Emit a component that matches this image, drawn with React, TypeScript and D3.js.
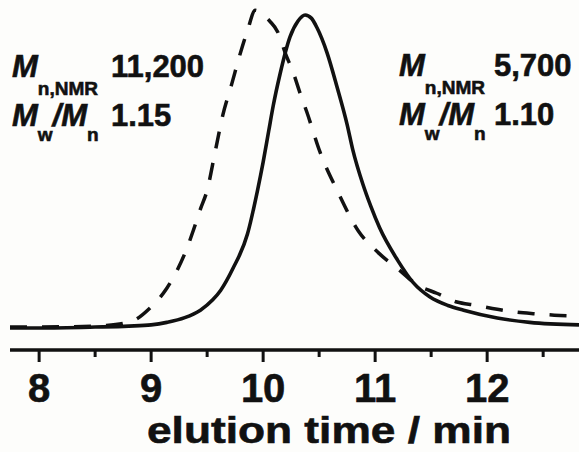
import * as d3 from "d3";

const W = 579;
const H = 452;

// elution time (min) and normalised RI signal
const solidTime = [7.74, 8.0, 8.5, 8.8, 9.0, 9.14, 9.3, 9.44, 9.55, 9.62, 9.73, 9.86, 9.95, 10.0, 10.05, 10.09, 10.15, 10.24, 10.31, 10.375, 10.43, 10.48, 10.57, 10.66, 10.75, 10.8, 10.89, 10.96, 11.04, 11.2, 11.34, 11.49, 11.65, 11.79, 12.09, 12.38, 12.82];
const solidSignal = [0.0, 0.0, 0.003, 0.006, 0.01, 0.018, 0.033, 0.057, 0.09, 0.12, 0.19, 0.3, 0.44, 0.53, 0.63, 0.71, 0.81, 0.93, 0.98, 1.0, 0.99, 0.96, 0.88, 0.77, 0.65, 0.57, 0.46, 0.39, 0.32, 0.217, 0.145, 0.099, 0.072, 0.057, 0.032, 0.018, 0.01];

const dashedTime = [7.74, 8.3, 8.6, 8.83, 8.99, 9.14, 9.24, 9.32, 9.375, 9.44, 9.5, 9.57, 9.64, 9.72, 9.79, 9.86, 9.93, 10.0, 10.06, 10.13, 10.2, 10.27, 10.33, 10.39, 10.51, 10.66, 10.85, 11.03, 11.2, 11.38, 11.55, 11.73, 11.89, 12.09, 12.25, 12.45, 12.6, 12.82];
const dashedSignal = [0.003, 0.004, 0.008, 0.022, 0.064, 0.127, 0.19, 0.255, 0.31, 0.38, 0.44, 0.56, 0.68, 0.78, 0.87, 0.95, 1.015, 1.0, 0.98, 0.946, 0.876, 0.815, 0.75, 0.69, 0.56, 0.44, 0.31, 0.24, 0.19, 0.137, 0.111, 0.083, 0.073, 0.06, 0.051, 0.045, 0.041, 0.038];

const majorTicks = [8, 9, 10, 11, 12];
const minorTicks = [8.5, 9.5, 10.5, 11.5, 12.5];

const leftLabel = { mn: "11,200", pdi: "1.15" };
const rightLabel = { mn: "5,700", pdi: "1.10" };

const FONT = "'Liberation Sans', Arial, Helvetica, sans-serif";
const INK = "#111";

const x = d3.scaleLinear().domain([7.74, 12.82]).range([10, W]);
const y = d3.scaleLinear().domain([0, 1]).range([328, 15]);
const AXIS_Y = 350;

const line = d3
  .line<[number, number]>()
  .x((d) => x(d[0]))
  .y((d) => y(d[1]))
  .curve(d3.curveMonotoneX);

function Label({ x0, y0, numX, mn, pdi }: { x0: number; y0: number; numX: number; mn: string; pdi: string }) {
  return (
    <g fontFamily={FONT} fontWeight="bold" fill={INK} stroke={INK} strokeWidth={0.6}>
      <text x={x0} y={y0} fontSize={31}>
        <tspan fontStyle="italic">M</tspan>
        <tspan fontSize={19} dy={18}>n,NMR</tspan>
      </text>
      <text x={numX} y={y0} fontSize={31}>{mn}</text>
      <text x={x0} y={y0 + 49} fontSize={31}>
        <tspan fontStyle="italic">M</tspan>
        <tspan fontSize={19} dy={15}>w</tspan>
        <tspan fontStyle="italic" dy={-15}>/M</tspan>
        <tspan fontSize={19} dy={15}>n</tspan>
      </text>
      <text x={numX} y={y0 + 49} fontSize={31}>{pdi}</text>
    </g>
  );
}

export default function App() {
  const solid = solidTime.map((t, i) => [t, solidSignal[i]] as [number, number]);
  const dashed = dashedTime.map((t, i) => [t, dashedSignal[i]] as [number, number]);

  return (
    <svg
      width={W}
      height={H}
      style={{ position: "absolute", left: 0, top: 0, background: "#fdfdfb" }}
    >
      <path d={line(dashed) ?? ""} fill="none" stroke={INK} strokeWidth={3.5} strokeDasharray="17 15" />
      <path d={line(solid) ?? ""} fill="none" stroke={INK} strokeWidth={3.6} />

      <line x1={10} x2={W} y1={AXIS_Y} y2={AXIS_Y} stroke={INK} strokeWidth={3.5} />
      {majorTicks.map((t) => (
        <line key={t} x1={x(t)} x2={x(t)} y1={AXIS_Y} y2={AXIS_Y + 12} stroke={INK} strokeWidth={3} />
      ))}
      {minorTicks.map((t) => (
        <line key={t} x1={x(t)} x2={x(t)} y1={AXIS_Y} y2={AXIS_Y + 7} stroke={INK} strokeWidth={3} />
      ))}
      <g fontFamily={FONT} fontWeight="bold" fontSize={40} fill={INK} stroke={INK} strokeWidth={0.6} textAnchor="middle">
        {majorTicks.map((t) => (
          <text key={t} x={x(t)} y={402}>{t}</text>
        ))}
      </g>
      <text x={147} y={443} fontFamily={FONT} fontWeight="bold" fontSize={37} fill={INK} stroke={INK} strokeWidth={0.6} textLength={364} lengthAdjust="spacingAndGlyphs">
        elution time / min
      </text>

      <Label x0={12} y0={77} numX={111} mn={leftLabel.mn} pdi={leftLabel.pdi} />
      <Label x0={399} y0={76} numX={494} mn={rightLabel.mn} pdi={rightLabel.pdi} />
    </svg>
  );
}
